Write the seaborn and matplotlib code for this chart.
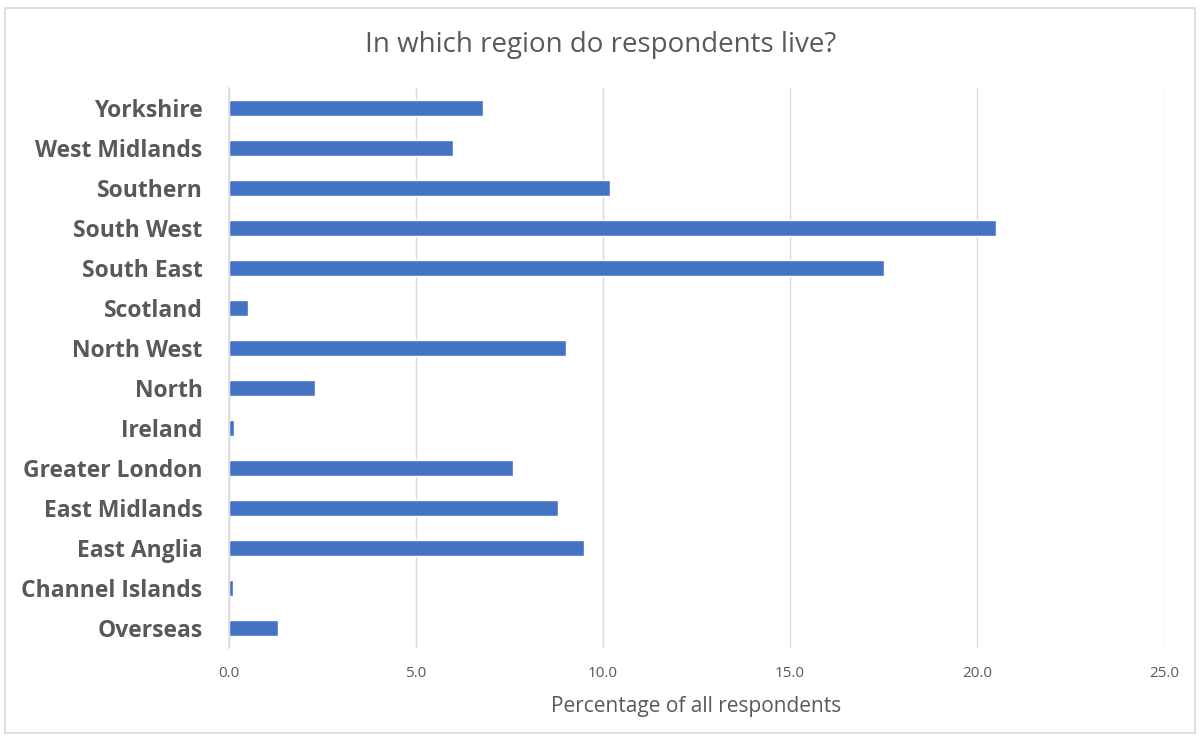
import numpy as np
import pandas as pd
import seaborn as sns
import matplotlib.pyplot as plt
from matplotlib.patches import Rectangle

regions = ['Yorkshire', 'West Midlands', 'Southern', 'South West', 'South East',
           'Scotland', 'North West', 'North', 'Ireland', 'Greater London',
           'East Midlands', 'East Anglia', 'Channel Islands', 'Overseas']
percent = [6.8, 6.0, 10.2, 20.5, 17.5, 0.5, 9.0, 2.3, 0.13, 7.6, 8.8, 9.5, 0.1, 1.3]
xticks = [0.0, 5.0, 10.0, 15.0, 20.0, 25.0]

df = pd.DataFrame({'Region': regions, 'Percent': percent})

sns.set_style('white')
plt.rcParams['font.family'] = ['Open Sans', 'DejaVu Sans']

grey = '#595959'
fig = plt.figure(figsize=(12.01, 7.38), dpi=100)
ax = fig.add_axes([229 / 1201, 1 - 648 / 738, (1164 - 229) / 1201, (648 - 88) / 738])

sns.barplot(data=df, x='Percent', y='Region', order=regions, color='#4472C4',
            saturation=1, width=0.38, ax=ax)

ax.set_xlim(0, 25)
ax.set_xticks(xticks)
ax.set_xticklabels(['%.1f' % t for t in xticks], color=grey, fontsize=11)
ax.xaxis.grid(True, color='#D9D9D9', linewidth=1)
ax.set_axisbelow(True)
for s in ['top', 'right', 'bottom']:
    ax.spines[s].set_visible(False)
ax.spines['left'].set_color('#D9D9D9')
ax.spines['left'].set_linewidth(1.2)
ax.tick_params(axis='both', length=0)
ax.tick_params(axis='x', pad=13)
ax.tick_params(axis='y', pad=19)
for lbl in ax.get_yticklabels():
    lbl.set_fontweight('bold')
    lbl.set_color(grey)
    lbl.set_fontsize(16.5)
ax.set_ylabel('')
ax.set_xlabel('Percentage of all respondents', color=grey, fontsize=15, labelpad=11)

fig.text(601 / 1201, 1 - 45 / 738, 'In which region do respondents live?',
         ha='center', va='center', fontsize=20, color=grey)

fig.patches.append(Rectangle((5 / 1201, 1 - 733 / 738), 1190 / 1201, 725 / 738,
                             transform=fig.transFigure, fill=False,
                             edgecolor='#D9D9D9', linewidth=1.2))

plt.savefig('out.png', dpi=100)
